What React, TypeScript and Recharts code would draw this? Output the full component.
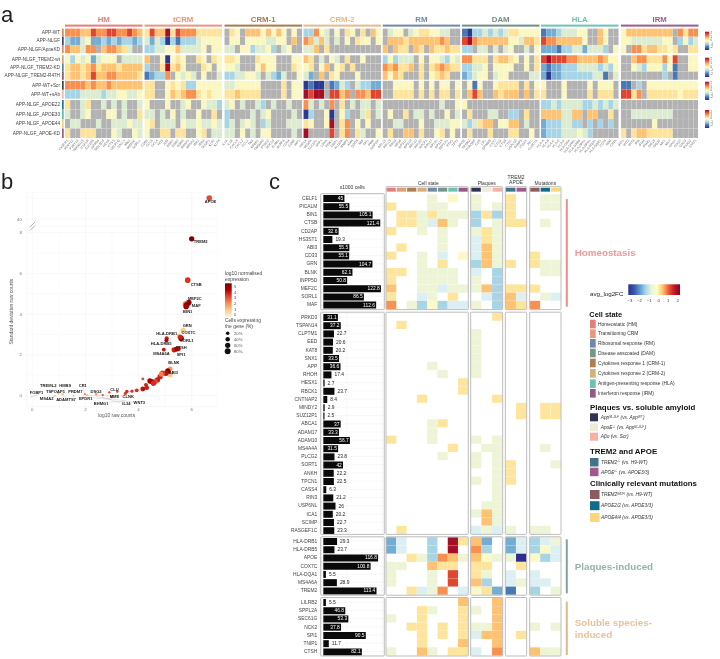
import React from "react";
import { ScatterChart, Scatter, XAxis, YAxis, BarChart, Bar, LabelList, CartesianGrid, ReferenceLine } from "recharts";

const FONT = '"Liberation Sans", Arial, sans-serif';

// ---------- Panel a: levels per group (x = not detected)
const hmLevels = ["888779889988987","322452232323323","877488x788764xx","5354524555x4444","677678677767777","677679778877776","888878778777777","333444434455445","6xx46xx4x4x4xx4","4xx45xxx55x4xx6","x44xxx4xx444544","6xx666xxx54xx54"];
const tcrmLevels = ["6977A6988866666","424303133345555","334455744445x55","7xx50565xx65x65","3xx6A675xxx65x5","12338x5454x5xx4","66xx56563355555","66xx57678865655","5xxx5xx45xx5443","44x4x5x4xx5xx6x","56x444x54454454","5xx66x66xx56x44"];
const crm1Levels = ["x65x77757575x5x","x55x55554455x7x","44x5534453x45xx","665xxx6555xxx55","554xxx5755xxx65","3344554x4324xx5","4455555xxxx6x55","6676666xxxx6x55","45x4xx43x4xx4xx","3xxxx4x45xxxx4x","34x454x34xxx444","44x5x4x55xxxx4x"];
const crm2Levels = ["33854x5x65x6x75","87474x4x5x655x5","447x6xxxxxxxxxx","76x4x54x6xx5xxx","56x57x56x6xxxxx","42x7x65xxx5xxxx","0100x1243x43322","A9AAx9978x88799","84x4x8x6x4x44x4","03xx50x53xx46x4","65xx5Ax68x5x5xx","Axxxx9x68x64xx5"];
const rmLevels = ["x455x45665544xx","x777677777787xx","7x766x76x766766","353444x5x554354","878667x6x678766","7576xxx6x5676xx","xx5555x5x5x55x5","xx6666x6x6x66x6","xxxxxxxxxxx4xx5","x5xx6x44x4xx5x4","xx44xxx5xx44455","x6xx77x6xx56x5x"];
const damLevels = ["103343434665555","9A8777777554776","33x44x4x45xx4x5","88666x67765x5x6","33445x5555xx5x6","23455x455xxxx44","x515xx56666x6x5","x797xx76777x7x6","5xxxxxxxxxxxxxx","x6xxx44xx33x6xx","434677x5577x4xx","x6xxx6xxx66xx5x"];
const hlaLevels = ["122344455xx75xx","988777775xx75xx","2221334424443x5","9A9998877778755","212233344443435","2022333333441x4","5xxx5xxxx5x555x","6xxx5xxxx6x666x","334344443343434","77774477x77xx6x","23334433x3x3x3x","2333444543xxxxx"];
const irmLevels = ["5777777777x8688","5544444455x3534","5x886776656xx66","xx788666859xx55","xx543555351xx55","xxxxxxxx3x1xxxx","11x3x5555555555","9968x6666665666","xxxxxxxxxxxxxxx","xx44444444xxxxx","xxxxxx5xxxxxxxx","6x67766666xxxxx"];
const groupLevels = [hmLevels, tcrmLevels, crm1Levels, crm2Levels, rmLevels, damLevels, hlaLevels, irmLevels];
const groupNames = ["HM", "tCRM", "CRM-1", "CRM-2", "RM", "DAM", "HLA", "IRM"];
const groupColors = ["#e2807c", "#e8967f", "#a97b50", "#e2bb8c", "#7288a8", "#6f8f86", "#6cc3b4", "#95608c"];
const rowNames = ["APP-WT", "APP-NLGF", "APP-NLGF/ApoeKD", "APP-NLGF_TREM2-wt", "APP-NLGF_TREM2-KD", "APP-NLGF_TREM2-R47H", "APP-WT+Scr", "APP-WT+sAb", "APP-NLGF_APOE22", "APP-NLGF_APOE33", "APP-NLGF_APOE44", "APP-NLGF_APOE-KD"];
const rowColors = ["#e5845a", "#3a4a70", "#d88a6a", "#dca36c", "#4f8aa0", "#8a5a5a", "#3a4a3a", "#f7b7a9", "#1f7a9c", "#5cbcb0", "#f5d276", "#a05a88"];
const colGenes = [
  ["CX3CR1","P2RY12","P2RY13","TMEM119","CSF1R","SLC2A5","GPR34","SIGLEC8","HEXB","CTSS","SELPLG","SALL1","BIN1","MEF2C","SORL1"],
  ["CD83","CCL3","CCL4","FOS","JUN","EGR1","EGR2","EGR3","NR4A1","NR4A2","IER2","IER3","DUSP1","KLF2","KLF4"],
  ["IL1A","IL1B","CXCL8","CXCL2","CCL2","TNF","NFKB1","TNFAIP3","PTGS2","SOCS3","ICAM1","NLRP3","CD44","CD69","IRF1"],
  ["HIF1A","VEGFA","SLC2A1","SPP1","LDHA","PGK1","ENO1","ALDOA","BNIP3","ADM","DDIT4","MIF","TPI1","PKM","GAPDH"],
  ["RPL13","RPL19","RPS3","RPS6","RPS12","RPS18","RPL10","RPL32","RPLP1","RPS27","RPL41","RPS19","EEF1A1","FTH1","TPT1"],
  ["APOE","TREM2","TYROBP","CD9","LPL","GPNMB","CST7","CTSD","CTSB","CTSL","LGALS3","FABP5","ITGAX","AXL","CLEC7A"],
  ["HLA-A","HLA-B","HLA-C","HLA-E","HLA-F","HLA-DRA","HLA-DRB1","HLA-DRB5","HLA-DPA1","HLA-DPB1","HLA-DQA1","HLA-DQB1","CD74","B2M","CIITA"],
  ["IFIT1","IFIT2","IFIT3","IFI6","IFI44","IFI44L","ISG15","ISG20","MX1","MX2","OAS1","OAS2","OAS3","RSAD2","STAT1"],
];

// ---------- Panel c
const homeoGenes = ["CELF1","PICALM","BIN1","CTSB","CD2AP","HS3ST1","ABI3","CD33","GRN","BLNK","INPP5D","MEF2C","SORL1","MAF"];
const homeoCells = [45,55.5,105.1,121.4,32.6,19.3,55.5,55.1,104.7,62.1,50.8,122.8,86.5,112.6];
const homeoFC = ["....4.5.|4..|6.|.44","6...44..|4.4|6.|.44",".6646444|363|6.|...",".664g74.|3.4|66|.4.","6..4.4..|464|..|...",".....4..|g64|..|...",".6...4..|g74|..|...","6..4.g.5|g74|..|6..","...4.6..|374|6.|644","66.4444.|g.3|..|.44","6..4444.|4.3|..|...","7..44g44|473|66|6..","6..g4.6.|.g3|7g|.4g","8.4353gg|4.3|76|8.."];
const otherGenes = ["PRKD3","TSPAN14","CLPTM1","EED","KAT8","SNX1","APP","RHOH","HESX1","RBCK1","CNTNAP2","MINDY2","SUZ12P1","ABCA1","ADAM17","ADAM10","MS4A4A","PLCG2","SORT1","ANKH","TPCN1","CASS4","RIN3","USP6NL","ICA1","SCIMP","RASGEF1C"];
const otherCells = [31.1,37.2,22.7,20.6,20.2,33.5,36.6,17.4,2.7,23.7,8.4,2.9,2.5,37,33.3,56.7,31.5,23.8,42,22.2,22.5,6.3,21.2,26,20.2,22.7,23.3];
const otherFC = ["........|..6|..|...",".6......|...|..|...","........|4..|..|...","........|4..|..|...","........|4..|..|...","........|4..|..|...","....4...|4..|..|...",".....4..|4..|..|...",".......6|...|..|...",".......6|...|..|...","...6....|..6|..|...","........|...|.6|.66","........|...|.6|.66","....46..|...|..|...","....4...|...|..|...","6...4...|4.4|..|...","......6.|.44|..|.4.",".....4..|4.4|..|...","........|4.4|6.|..4","........|..4|6.|...","........|4.4|6.|...","........|..4|..|...","........|..4|..|...","........|.44|..|...","........|474|..|...","........|.74|..|...",".6......|g4g|4.|44."];
const plaqueGenes = ["HLA-DRB1","HLA-DRB5","APOE","COX7C","HLA-DQA1","MS4A6A","TREM2"];
const plaqueCells = [29.3,23.7,116.8,100.8,5.5,28.9,113.4];
const plaqueFC = ["2g..3.A6|72.|2g|3g4","2g..3.A.|83.|2g|35g","..643874|754|40|53g","44..766.|66.|.6|...","4...4.9.|64.|g.|g..","4...4.9.|73.|g4|gg.","..6g48.g|562|1.|3.4"];
const solubleGenes = ["LILRB2","SPPL2A","SEC61G","NCK2","SPI1","TNIP1","CTSH"];
const solubleCells = [5.5,46.8,53.3,37.8,90.5,11.7,82.1];
const solubleFC = [".......7|..7|..|...","...64..6|4.7|..|...","4..6...6|..7|..|...","..66.6.6|447|..|4.4","...6.6.6|g77|.6|...","...6...7|..7|..|...","4..74.66|g.8|..|744"];
const stripColors = ["#e2807c","#e59a78","#b07f4f","#d6b07a","#7188ad","#76958d","#6cc3b4","#935a87","#2f3156","#eeebd6","#f7b1a5","#3f7489","#a0598c","#8c5b5b","#0f6c8c","#fcd67a"];

// ---------- Panel b: [x, y, expression, % cells]
const scatterPoints = [
  [6.0,7.7,5,60],[5.85,5.67,3.3,70],[5.89,4.57,4.6,70],[5.77,4.5,2.4,70],[5.82,4.46,5,70],[5.79,4.38,4.3,70],
  [5.68,3.2,1,60],[5.6,2.82,4.8,70],[5.53,2.93,1.2,50],[5.57,2.87,3.5,50],[5.06,2.82,3.6,30],[5.05,2.72,4,30],[5.49,2.31,3.8,60],
  [5.34,2.25,3.5,60],[5.42,2.28,4,50],[4.95,2.26,3.7,25],[5.19,1.31,1.8,50],[5.19,1.05,1.2,60],[5.1,1.21,4.6,60],[5.03,1.1,3.8,60],
  [4.9,1.1,3.2,60],[4.81,0.93,3.5,60],[4.85,1.05,2.2,50],[4.71,0.77,3.6,60],[4.62,0.69,3,60],[4.5,0.69,3.8,60],[4.43,0.72,4.2,60],
  [4.56,0.61,3.4,60],[4.31,0.39,3.6,40],[4.16,0.33,3.8,50],[4.28,0.52,3.5,30],[4.16,0.82,3,10],[3.93,0.26,3.4,25],[3.75,0.22,3.3,15],
  [3.56,0.2,3.4,20],[3.5,0.11,3.2,15],[3.2,0.2,3,8],[2.9,0.16,3,6],[2.99,-0.05,2.8,5],[2.65,0.03,3,5],[2.4,0.07,2,5],[1.98,0.07,2.2,4],
  [2.05,0.02,1.5,3],[1.55,0,1.2,3],[1.14,0.07,1.5,4],[0.98,0.11,1.2,4],[0.85,0,1,3],[-0.03,-0.05,0.5,2],
];
const topPoints = [[6.66, 50, 3, 70]];
const pointLabels: [string, number, number][] = [
  ["TREM2",6.34,7.56],["CTSB",6.17,5.48],["MEF2C",6.12,4.75],["MAF",6.17,4.42],["BIN1",5.85,4.11],["GRN",5.83,3.45],["COX7C",5.88,3.09],["HLA-DRB1",5.06,3.06],["SORL1",5.82,2.7],["CTSH",5.6,2.37],["HLA-DRB5",4.85,2.55],["MS4A6A",4.86,2.08],["SPI1",5.6,2.01],["BLNK",5.33,1.62],["ABI3",5.31,1.16],
  ["TREML2",0.6,0.51],["HMBS",1.24,0.51],["FOBP1",0.16,0.16],["TSPOAP1",0.87,0.18],["MS4A2",0.54,-0.15],["ADAMTS7",1.27,-0.18],["PRDM7",1.62,0.2],["CR1",1.9,0.51],["EPDR1",2.01,-0.16],["DSG2",2.4,0.21],["BHMG1",2.59,-0.36],["CLU",3.09,0.29],["MME",3.09,-0.05],["CLNK",3.61,-0.02],["IL34",3.54,-0.36],["WNT3",4.03,-0.33],
];
const topLabels: [string, number, number][] = [["APOE", 6.71, 48.1]];
const connectors = [
  [0.85,0.45,0.98,0.11],[1.24,0.44,1.14,0.07],[0.3,0.1,-0.03,-0.05],[0.75,-0.1,0.85,0],[1.3,-0.12,1.14,0.07],[2.3,-0.1,2.99,-0.2],[2.9,-0.32,3.5,-0.28],[3.3,-0.34,2.65,-0.08],[3.85,-0.32,2.4,-0.05],[3.4,-0.02,2.05,0.02],[1.9,0.44,1.98,0.07],
];

const GRAD_STOPS = ["#2b3990","#4a78b5","#74add1","#a8d5e6","#dcecd0","#fbf7c0","#fee39a","#fdc272","#f99050","#e0452f","#a50f26"];
const levelColor: Record<string, string> = { "0": GRAD_STOPS[0], "1": GRAD_STOPS[1], "2": GRAD_STOPS[2], "3": GRAD_STOPS[3], "4": GRAD_STOPS[4], "5": GRAD_STOPS[5], "6": GRAD_STOPS[6], "7": GRAD_STOPS[7], "8": GRAD_STOPS[8], "9": GRAD_STOPS[9], A: GRAD_STOPS[10], x: "#b2b2b2" };
const fcColor: Record<string, string> = { ...levelColor, "4": "#edf5d6", "5": "#fcf8c8", "6": "#fee59c", g: "#dcf0f3", "0": "#2c2d8f" };

const A_LAYOUT = { groupStarts: [65, 144.5, 224.5, 303.5, 382.7, 462, 541, 621], cell: 5.17, blockStarts: [28.6, 55.2, 80.8, 100], blockRows: [3, 3, 2, 4], blockH: [8.2, 8.2, 9, 9.5] };
const C_LAYOUT = { panels: [{ start: 386, cols: 8, w: 10.29 }, { start: 470.7, cols: 3, w: 10.67 }, { start: 505.3, cols: 2, w: 10.7 }, { start: 529.7, cols: 3, w: 10.43 }], blocks: [{ top: 194.2, h: 8.2 }, { top: 312.6, h: 8.2 }, { top: 537.2, h: 8.23 }, { top: 597.9, h: 8.23 }] };

const aRowY: { y: number; h: number }[] = [];
A_LAYOUT.blockStarts.forEach((s, b) => { for (let i = 0; i < A_LAYOUT.blockRows[b]; i++) aRowY.push({ y: s + (i + 0.5) * A_LAYOUT.blockH[b], h: A_LAYOUT.blockH[b] }); });
const aCells: any[] = [];
groupLevels.forEach((rows, g) => rows.forEach((row, r) => row.split("").forEach((ch, c) => {
  aCells.push({ x: A_LAYOUT.groupStarts[g] + (c + 0.5) * A_LAYOUT.cell, y: aRowY[r].y, w: A_LAYOUT.cell, h: aRowY[r].h, fill: levelColor[ch] });
})));
const aXTicks: number[] = [];
const aXLabel = new Map<number, string>();
colGenes.forEach((genes, g) => genes.forEach((name, c) => { const v = A_LAYOUT.groupStarts[g] + (c + 0.5) * A_LAYOUT.cell; aXTicks.push(v); aXLabel.set(v, name); }));
const aYTicks = aRowY.map((r) => r.y);

const cCells: any[] = [];
[homeoFC, otherFC, plaqueFC, solubleFC].forEach((rows, b) => rows.forEach((row, r) => row.split("|").forEach((part, p) => part.split("").forEach((ch, c) => {
  if (ch === ".") return;
  const P = C_LAYOUT.panels[p]; const B = C_LAYOUT.blocks[b];
  cCells.push({ x: P.start + (c + 0.5) * P.w, y: B.top + (r + 0.5) * B.h, w: P.w, h: B.h, fill: fcColor[ch] });
}))));
let si = 0;
C_LAYOUT.panels.forEach((P) => { for (let c = 0; c < P.cols; c++) cCells.push({ x: P.start + (c + 0.5) * P.w, y: 189.7, w: P.w - 1, h: 4, fill: stripColors[si++] }); });

const OR_STOPS = ["#fef0d9", "#fdcc8a", "#fc8d59", "#e34a33", "#b30000", "#7f0000"];
function hex(c: string) { return [1, 3, 5].map((i) => parseInt(c.slice(i, i + 2), 16)); }
function exprColor(v: number) {
  const i = Math.min(4, Math.floor(v)); const t = v - i; const a = hex(OR_STOPS[i]); const b = hex(OR_STOPS[i + 1]);
  return `rgb(${a.map((u, k) => Math.round(u + (b[k] - u) * t)).join(",")})`;
}
function pctRadius(p: number) { return 0.55 + Math.sqrt(p) * 0.27; }

const HeatCell = (p: any) => {
  const d = p.payload;
  return <rect x={p.cx - d.w / 2} y={p.cy - d.h / 2} width={d.w} height={d.h} fill={d.fill} stroke="#ffffff" strokeOpacity={0.25} strokeWidth={0.3} />;
};
const Dot = (p: any) => <circle cx={p.cx} cy={p.cy} r={pctRadius(p.payload.pct)} fill={exprColor(p.payload.expr)} />;
const LabelMark = (p: any) => (
  <text x={p.cx} y={p.cy} textAnchor="middle" dominantBaseline="central" fontSize={4.1} fontWeight={700} fontFamily={FONT} fill="#222">{p.payload.name}</text>
);
const lowData = scatterPoints.map(([x, y, expr, pct]) => ({ x, y, expr, pct }));
const topData = topPoints.map(([x, y, expr, pct]) => ({ x, y, expr, pct }));
const lowLabels = pointLabels.map(([name, x, y]) => ({ name, x, y }));
const highLabels = topLabels.map(([name, x, y]) => ({ name, x, y }));

const BarValue = (p: any) => {
  const { x, y, width, height, value } = p;
  const inside = value >= 30;
  return (
    <text x={inside ? x + width - 1.2 : x + width + 3} y={y + height / 2} dominantBaseline="central" textAnchor={inside ? "end" : "start"} fontSize={4.9} fontFamily={FONT} fill={inside ? "#fff" : "#222"}>{value}</text>
  );
};

function CellsPanel({ genes, cells, top, rowH }: { genes: string[]; cells: number[]; top: number; rowH: number }) {
  const data = genes.map((gene, i) => ({ gene, cells: cells[i] }));
  return (
    <div style={{ position: "absolute", left: 275, top }}>
      <BarChart layout="vertical" width={109.3} height={genes.length * rowH} data={data} margin={{ top: 0, right: 0, bottom: 0, left: 0 }} barCategoryGap={0.6}>
        <CartesianGrid stroke="#f1f1f1" strokeWidth={0.5} />
        <XAxis type="number" domain={[-5.6, 130]} ticks={[0, 25, 50, 75, 100, 125]} hide />
        <YAxis type="category" dataKey="gene" width={45.7} interval={0} tickLine={false} axisLine={false} tickSize={0} tickMargin={3.4} tick={{ fontSize: 4.9, fill: "#444", fontFamily: FONT }} />
        <Bar dataKey="cells" fill="#0a0a0a" barSize={7} isAnimationActive={false}>
          <LabelList dataKey="cells" content={BarValue} />
        </Bar>
      </BarChart>
    </div>
  );
}

const XTickA = (p: any) => (
  <text x={p.x} y={p.y + 1.5} transform={`rotate(-50 ${p.x} ${p.y + 1.5})`} textAnchor="end" dominantBaseline="central" fontSize={3.3} fill="#666" fontFamily={FONT}>{aXLabel.get(p.payload.value)}</text>
);
const YTickA = (p: any) => {
  const i = aYTicks.indexOf(p.payload.value);
  return <text x={60} y={p.y} textAnchor="end" dominantBaseline="central" fontSize={4.7} fill="#444" fontFamily={FONT}>{rowNames[i]}</text>;
};

const cFrames = [[193.7, 309.6], [312.2, 534.4], [536.8, 595.2], [597.5, 656]];
const cPanelsX = [[320.7, 384.3], [386, 468.3], [470.7, 502.7], [505.3, 526.7], [529.7, 561]];
const legendStates = [["#e2807c", "Homeostatic (HM)", 324], ["#e59a78", "Transitioning CRM", 333.7], ["#7188ad", "Ribosomal response (RM)", 343.3], ["#76958d", "Disease asscoated (DAM)", 353], ["#b07f4f", "Cytokines response 1 (CRM-1)", 363], ["#d6b07a", "Cytokines response 2 (CRM-2)", 373.3], ["#6cc3b4", "Antigen-presenting response (HLA)", 383.7], ["#935a87", "Interferon response (IRM)", 393.3]];

const T = ({ x, y, s = 5, w, c = "#222", a, i, children }: any) => (
  <text x={x} y={y} fontSize={s} fontWeight={w} fill={c} textAnchor={a} fontStyle={i ? "italic" : undefined} fontFamily={FONT}>{children}</text>
);
const Sup = ({ children }: any) => (<><tspan dy={-1.5} fontSize={2.9}>{children}</tspan><tspan dy={1.5}>{"\u200a"}</tspan></>);

function Overlay() {
  const sw: any = { fill: "none", stroke: "#bdbdbd", strokeWidth: 1 };
  return (
    <svg width={720} height={659} style={{ position: "absolute", left: 0, top: 0, pointerEvents: "none" }}>
      <defs>
        <linearGradient id="rdy" x1="0" x2="1" y1="0" y2="0">{["#2b2f90","#3c56a6","#5f9ad0","#a8d5e6","#e8f4e0","#ffffbf","#fdc272","#ee5a37","#c01a27","#8c0026"].map((c, i) => <stop key={i} offset={i / 9} stopColor={c} />)}</linearGradient>
        <linearGradient id="rdyV" x1="0" x2="0" y1="1" y2="0">{["#2b2f90","#4a78b5","#a8d5e6","#ffffbf","#fdc272","#ee5a37","#a50f26"].map((c, i) => <stop key={i} offset={i / 6} stopColor={c} />)}</linearGradient>
        <linearGradient id="orr" x1="0" x2="0" y1="1" y2="0">{OR_STOPS.map((c, i) => <stop key={i} offset={i / 5} stopColor={c} />)}</linearGradient>
      </defs>
      {/* panel letters */}
      <T x={1} y={21.5} s={22}>a</T>
      <T x={1} y={189} s={22}>b</T>
      <T x={269} y={189} s={22}>c</T>

      {/* a: group headers */}
      {groupNames.map((n, g) => (
        <g key={n}>
          <text x={A_LAYOUT.groupStarts[g] + 38.7} y={22} textAnchor="middle" fontSize={7.8} fontWeight={700} fill={groupColors[g]} fontFamily={FONT}>{n}</text>
          <rect x={A_LAYOUT.groupStarts[g]} y={24.6} width={77.5} height={2} fill={groupColors[g]} />
        </g>
      ))}
      {aRowY.map((r, i) => <rect key={i} x={62} y={r.y - r.h / 2} width={1.7} height={r.h} fill={rowColors[i]} />)}
      {[[31.7, 50], [57.7, 77], [81.7, 100], [110, 128]].map(([a, b], i) => (
        <g key={i}>
          <rect x={705} y={a} width={4.2} height={b - a} fill="url(#rdyV)" />
          {["2", "1", "0", "-1", "-2"].map((t, k) => <text key={t} x={710.4} y={a + 2.5 + k * (b - a - 3) / 4.4} fontSize={2.9} fill="#555" fontFamily={FONT}>{t}</text>)}
        </g>
      ))}

      {/* b: axis furniture + legend */}
      <text transform="rotate(-90 13.5 311.7)" x={13.5} y={311.7} textAnchor="middle" fontSize={4.9} fill="#555" fontFamily={FONT}>Standard deviation raw counts</text>
      <T x={116.7} y={417} s={4.9} a="middle" c="#555">log10 raw counts</T>
      <line x1={30} y1={227} x2={35} y2={222} stroke="#777" strokeWidth={0.6} />
      <line x1={30} y1={230.5} x2={35} y2={225.5} stroke="#777" strokeWidth={0.6} />
      <T x={225} y={275} s={4.9} c="#444">log10 normalised</T>
      <T x={225} y={281} s={4.9} c="#444">expression</T>
      <rect x={225} y={283.3} width={6.7} height={33.4} fill="url(#orr)" />
      {[5, 4, 3, 2, 1, 0].map((t, i) => <T key={t} x={234} y={288.2 + i * 5.6} s={4.2} c="#555">{t}</T>)}
      <T x={225} y={322} s={4.9} c="#444">Cells expressing</T>
      <T x={225} y={328} s={4.9} c="#444">the gene (%)</T>
      {[20, 40, 60, 80].map((p, i) => (
        <g key={p}><circle cx={227.7} cy={333.3 + i * 6} r={pctRadius(p)} fill="#111" /><T x={234} y={334.8 + i * 6} s={4.2} c="#555">{p}%</T></g>
      ))}

      {/* c: headers */}
      <T x={352.3} y={189.3} s={5} a="middle" c="#333">x1000 cells</T>
      <T x={428.3} y={184.5} s={5} a="middle" c="#333">Cell state</T>
      <T x={486.7} y={184.5} s={5} a="middle" c="#333">Plaques</T>
      <T x={516} y={178.5} s={5} a="middle" c="#333">TREM2</T>
      <T x={516} y={184} s={5} a="middle" c="#333">APOE</T>
      <T x={545.3} y={184.5} s={5} a="middle" c="#333">Mutations</T>
      {cFrames.map(([y0, y1], b) => cPanelsX.map(([x0, x1], p) => (
        <rect key={`${b}-${p}`} x={x0} y={b === 0 && p > 0 ? 186.7 : y0} width={x1 - x0} height={y1 - (b === 0 && p > 0 ? 186.7 : y0)} rx={0.8} {...sw} />
      )))}

      {/* c: side labels */}
      <rect x={565.8} y={199} width={2} height={107.7} fill="#ec8c88" />
      <T x={574.7} y={256} s={9.8} w={700} c="#e99b97">Homeostasis</T>
      <rect x={565.8} y={539.3} width={2} height={54} fill="#7fa69a" />
      <T x={574.7} y={570} s={9.8} w={700} c="#93b3a9">Plaques-induced</T>
      <rect x={565.8} y={601.7} width={2} height={53.3} fill="#e0b98a" />
      <T x={574.7} y={625.7} s={9.8} w={700} c="#e5c39b">Soluble species-</T>
      <T x={574.7} y={637.7} s={9.8} w={700} c="#e5c39b">induced</T>

      {/* c: legend */}
      <T x={590} y={296} s={6.2} c="#222">avg_log2FC</T>
      <rect x={628.3} y={284.3} width={51.7} height={10.7} fill="url(#rdy)" />
      {["\u22123", "\u22122", "\u22121", "0", "1", "2"].map((t, i) => <T key={t} x={630 + i * 9.55} y={301.7} s={4.3} a="middle" c="#333">{t}</T>)}
      <T x={589.3} y={317.3} s={7.4} w={700} c="#111">Cell state</T>
      {legendStates.map(([c, t, y]: any) => (
        <g key={t}><rect x={590} y={y - 4.3} width={5.7} height={8.6} fill={c} /><T x={598} y={y + 1.7} s={4.9} c="#333">{t}</T></g>
      ))}
      <T x={590} y={410} s={7.9} w={700} c="#111">Plaques vs. soluble amyloid</T>
      <rect x={590} y={413.3} width={8} height={8} fill="#2f3156" />
      <rect x={590} y={423.3} width={8} height={8} fill="#eeebd6" />
      <rect x={590} y={432.7} width={8} height={8} fill="#f7b1a5" />
      <T x={600.7} y={419} s={4.8} c="#333" i>App<Sup>NL-G-F</Sup> (vs. App<Sup>WT</Sup>)</T>
      <T x={600.7} y={429} s={4.8} c="#333" i>ApoE<Sup>-/-</Sup> (vs. App<Sup>NL-G-F</Sup>)</T>
      <T x={600.7} y={438.4} s={4.8} c="#333" i>{"A\u03B2o (vs. Scr)"}</T>
      <T x={590} y={454} s={7.9} w={700} c="#111">TREM2 and APOE</T>
      <rect x={590} y={458} width={8.5} height={8.5} fill="#3f7489" />
      <rect x={590} y={467.7} width={8.5} height={8.5} fill="#a0598c" />
      <T x={601} y={463.8} s={4.8} c="#333" i>TREM2<Sup>-/-</Sup> (vs. H9-WT)</T>
      <T x={601} y={473.5} s={4.8} c="#333" i>APOE<Sup>-/-</Sup> (vs. APOE3/3)</T>
      <T x={590} y={486.3} s={7.9} w={700} c="#111">Clinically relevant mutations</T>
      <rect x={590} y={490} width={9.5} height={9} fill="#8c5b5b" />
      <rect x={590} y={501.2} width={9.5} height={9} fill="#0f6c8c" />
      <rect x={590} y={513} width={9.5} height={9} fill="#fcd67a" />
      <T x={601} y={496} s={4.8} c="#333" i>TREM2<Sup>R47H</Sup> (vs. H9-WT)</T>
      <T x={601} y={507.4} s={4.8} c="#333" i>APOE2/2 (vs. APOE3/3)</T>
      <T x={601} y={519.4} s={4.8} c="#333" i>APOE4/4 (vs. APOE3/3)</T>
    </svg>
  );
}

export default function App() {
  const bx = { left: 27, right: 218, min: -0.2, max: 6.99 };
  const gridStroke = "#f0f0f0";
  return (
    <div style={{ position: "absolute", left: 0, top: 0, width: 720, height: 659, overflow: "hidden", background: "#fff", fontFamily: FONT, filter: "blur(0.3px)" }}>
      {/* Panel a */}
      <div style={{ position: "absolute", left: 0, top: 28 }}>
        <ScatterChart width={698} height={132.5} margin={{ top: 0, right: 0, bottom: 0, left: 0 }}>
          <XAxis type="number" dataKey="x" domain={[65, 698]} ticks={aXTicks} interval={0} height={22} tickLine={false} axisLine={false} tickSize={0} tickMargin={0} tick={XTickA} />
          <YAxis type="number" dataKey="y" domain={[28, 138.5]} reversed ticks={aYTicks} interval={0} width={65} tickLine={false} axisLine={false} tickSize={0} tick={YTickA} />
          <Scatter data={aCells} shape={HeatCell} isAnimationActive={false} />
        </ScatterChart>
      </div>

      {/* Panel b upper */}
      <div style={{ position: "absolute", left: 0, top: 192 }}>
        <ScatterChart width={bx.right} height={34} margin={{ top: 0, right: 0, bottom: 0, left: 0 }}>
          <CartesianGrid stroke={gridStroke} strokeWidth={0.5} />
          <XAxis type="number" dataKey="x" domain={[bx.min, bx.max]} ticks={[0, 2, 4, 6]} hide />
          <YAxis type="number" dataKey="y" domain={[36.67, 52.86]} ticks={[40, 50]} width={27} tickLine={false} axisLine={false} tickSize={0} tickMargin={5} interval={0} tickFormatter={(v: number) => (v === 40 ? "40" : "")} tick={{ fontSize: 4.4, fill: "#777", fontFamily: FONT }} />
          <Scatter data={topData} shape={Dot} isAnimationActive={false} />
          <Scatter data={highLabels} shape={LabelMark} isAnimationActive={false} />
        </ScatterChart>
      </div>
      {/* Panel b lower */}
      <div style={{ position: "absolute", left: 0, top: 226 }}>
        <ScatterChart width={bx.right} height={192.7} margin={{ top: 0, right: 0, bottom: 0, left: 0 }}>
          <CartesianGrid stroke={gridStroke} strokeWidth={0.5} />
          {[1, 3, 5, 7].map((v) => <ReferenceLine key={`h${v}`} y={v} stroke="#f7f7f7" strokeWidth={0.5} />)}
          {[1, 3, 5].map((v) => <ReferenceLine key={`v${v}`} x={v} stroke="#f7f7f7" strokeWidth={0.5} />)}
          <XAxis type="number" dataKey="x" domain={[bx.min, bx.max]} ticks={[0, 2, 4, 6]} height={12} tickLine={false} axisLine={false} tickSize={0} tickMargin={1} tick={{ fontSize: 4.4, fill: "#777", fontFamily: FONT }} />
          <YAxis type="number" dataKey="y" domain={[-0.541, 8.327]} ticks={[0, 2, 4, 6, 8]} width={27} interval={0} tickLine={false} axisLine={false} tickSize={0} tickMargin={5} tick={{ fontSize: 4.4, fill: "#777", fontFamily: FONT }} />
          {connectors.map(([a, b, c, d], i) => <ReferenceLine key={i} segment={[{ x: a, y: b }, { x: c, y: d }]} stroke="#bbb" strokeWidth={0.4} />)}
          <Scatter data={lowData} shape={Dot} isAnimationActive={false} />
          <Scatter data={lowLabels} shape={LabelMark} isAnimationActive={false} />
        </ScatterChart>
      </div>

      {/* Panel c bars */}
      <CellsPanel genes={homeoGenes} cells={homeoCells} top={C_LAYOUT.blocks[0].top} rowH={C_LAYOUT.blocks[0].h} />
      <CellsPanel genes={otherGenes} cells={otherCells} top={C_LAYOUT.blocks[1].top} rowH={C_LAYOUT.blocks[1].h} />
      <CellsPanel genes={plaqueGenes} cells={plaqueCells} top={C_LAYOUT.blocks[2].top} rowH={C_LAYOUT.blocks[2].h} />
      <CellsPanel genes={solubleGenes} cells={solubleCells} top={C_LAYOUT.blocks[3].top} rowH={C_LAYOUT.blocks[3].h} />

      {/* Panel c heatmaps */}
      <div style={{ position: "absolute", left: 386, top: 186 }}>
        <ScatterChart width={175} height={471} margin={{ top: 0, right: 0, bottom: 0, left: 0 }}>
          <XAxis type="number" dataKey="x" domain={[386, 561]} hide />
          <YAxis type="number" dataKey="y" domain={[186, 657]} reversed hide />
          <Scatter data={cCells} shape={HeatCell} isAnimationActive={false} />
        </ScatterChart>
      </div>
      <Overlay />
    </div>
  );
}
